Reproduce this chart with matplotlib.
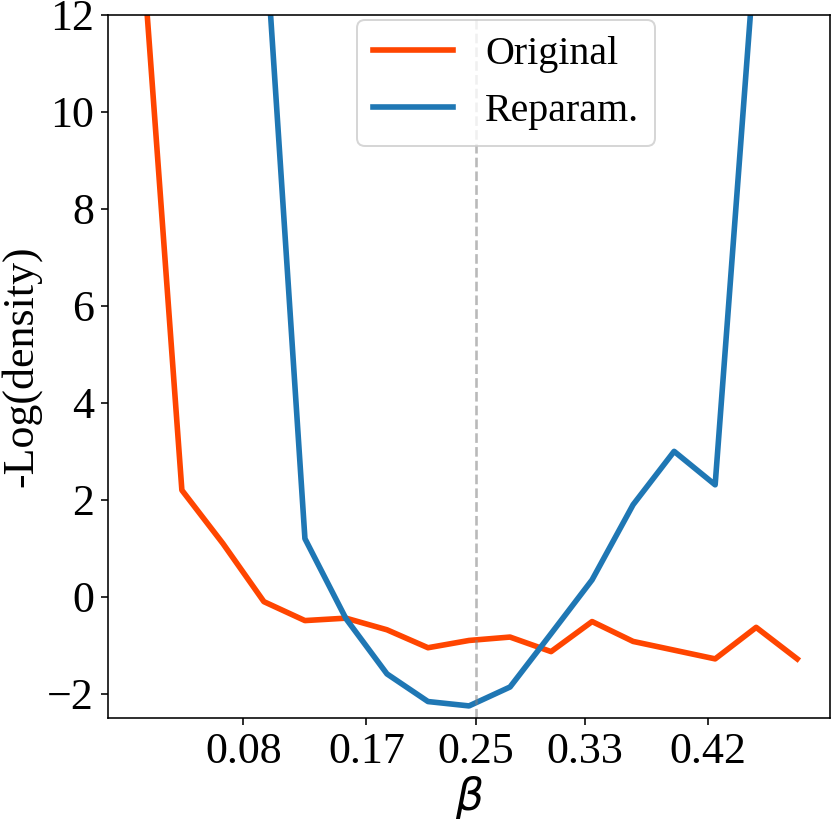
import numpy as np
import matplotlib
matplotlib.use("Agg")
from matplotlib import pyplot as plt

# beta grid and -log density values
beta = np.array([0.005, 0.035, 0.065, 0.095, 0.125, 0.155, 0.185, 0.215, 0.245,
                 0.275, 0.305, 0.335, 0.365, 0.395, 0.425, 0.455, 0.485])
nll_original = [13.8, 2.2, 1.1, -0.1, -0.49, -0.44, -0.68, -1.05, -0.9,
                -0.83, -1.13, -0.51, -0.92, -1.1, -1.28, -0.63, -1.28]
nll_reparam = [40.0, 30.0, 22.0, 14.1, 1.2, -0.45, -1.59, -2.16, -2.25,
               -1.86, -0.76, 0.35, 1.9, 3.0, 2.31, 13.6, 25.0]
beta_true = 0.25
xtick_vals = [0.08, 0.17, 0.25, 0.33, 0.42]
xtick_labels = ["0.08", "0.17", "0.25", "0.33", "0.42"]

plt.rcParams['font.family'] = ['Liberation Serif', 'DejaVu Serif']
plt.rcParams['font.size'] = 22

fig = plt.figure(figsize=(831/144, 824/144), dpi=144)
ax = fig.add_axes([0.130, 0.1286, 0.8688, 0.8532])

ax.plot(beta, nll_original, color="#FF4500", lw=2.8, label="Original")
ax.plot(beta, nll_reparam, color="#1f77b4", lw=2.8, label="Reparam.")
ax.axvline(beta_true, color="gray", ls="--", lw=1.3, alpha=0.55)

ax.set_ylim(-2.5, 12)
ax.set_xticks(xtick_vals)
ax.set_xticklabels(xtick_labels)
ax.set_yticks([-2, 0, 2, 4, 6, 8, 10, 12])
ax.set_yticklabels(["\u22122", "0", "2", "4", "6", "8", "10", "12"])
ax.set_xlabel(r"$\beta$", labelpad=1)
ax.set_ylabel("-Log(density)", labelpad=3)

ax.legend(loc="upper left", bbox_to_anchor=(0.345, 0.993), borderaxespad=0,
          fontsize=20)

fig.savefig("out.png", dpi=144)
